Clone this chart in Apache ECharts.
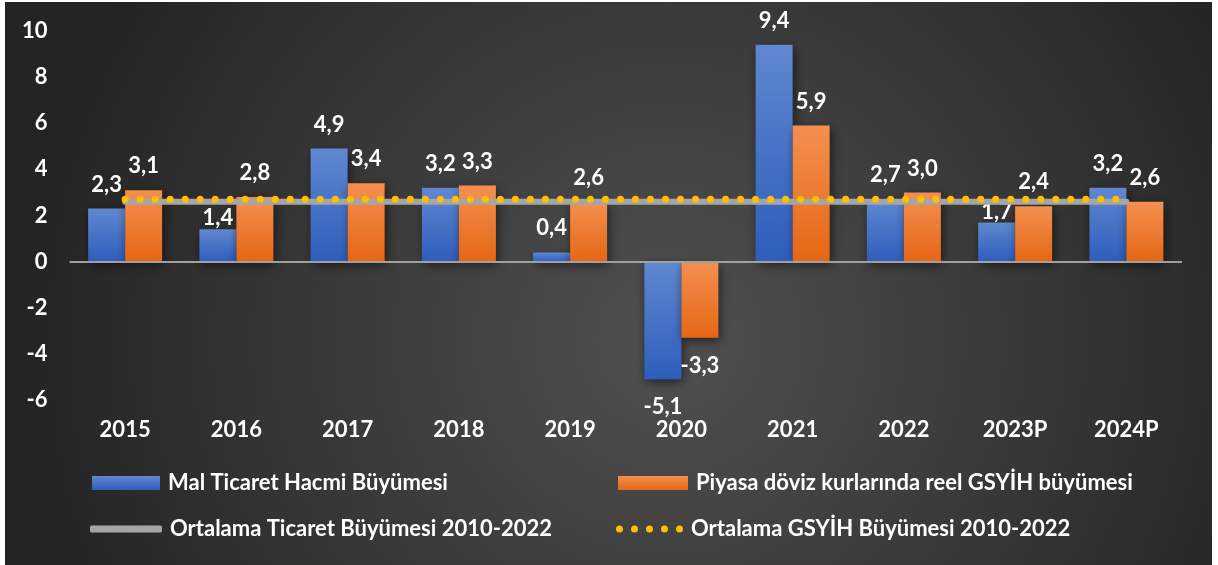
<!DOCTYPE html>
<html>
<head>
<meta charset="utf-8">
<script src="https://cdn.jsdelivr.net/npm/echarts@6/dist/echarts.min.js"></script>
<style>
  html, body { margin: 0; padding: 0; background: #ffffff; }
  #chart { width: 1218px; height: 565px; }
</style>
</head>
<body>
<div id="chart"></div>
<script>
// ---- Data ----
const categories = ['2015', '2016', '2017', '2018', '2019', '2020', '2021', '2022', '2023P', '2024P'];
const tradeGrowth = [2.3, 1.4, 4.9, 3.2, 0.4, -5.1, 9.4, 2.7, 1.7, 3.2];
const gdpGrowth = [3.1, 2.8, 3.4, 3.3, 2.6, -3.3, 5.9, 3.0, 2.4, 2.6];
const avgTradeGrowth = [2.6, 2.6, 2.6, 2.6, 2.6, 2.6, 2.6, 2.6, 2.6, 2.6];
const avgGdpGrowth = [2.7, 2.7, 2.7, 2.7, 2.7, 2.7, 2.7, 2.7, 2.7, 2.7];
const yTicks = [-6, -4, -2, 0, 2, 4, 6, 8, 10];
const seriesNames = [
  'Mal Ticaret Hacmi Büyümesi',
  'Piyasa döviz kurlarında reel GSYİH büyümesi',
  'Ortalama Ticaret Büyümesi 2010-2022',
  'Ortalama GSYİH Büyümesi 2010-2022'
];

// ---- Styling ----
const FONT = 'Lato';
const lowered = { 0: { 1: true, 8: true }, 1: {} }; // labels placed closer to bar top in original
function fmt(v) { return v.toFixed(1).replace('.', ','); }
function barData(values, sIdx) {
  return values.map((v, i) => {
    const label = v < 0 ? { position: 'bottom', distance: 17 } : { position: 'top', distance: 13 };
    if (lowered[sIdx][i]) label.offset = [0, 13];
    return { value: v, label: label };
  });
}
const labelStyle = { show: true, color: '#ffffff', fontFamily: FONT, fontWeight: 'bold', fontSize: 22, formatter: p => fmt(p.value) };
const blueGrad = new echarts.graphic.LinearGradient(0, 0, 0, 1, [
  { offset: 0, color: '#6088d0' }, { offset: 1, color: '#2e5dbc' }
]);
const orangeGrad = new echarts.graphic.LinearGradient(0, 0, 0, 1, [
  { offset: 0, color: '#f48f50' }, { offset: 1, color: '#e56715' }
]);
function dotsPath() {
  let p = 'path://';
  for (let i = 0; i < 5; i++) {
    const x = i * 15;
    p += 'M' + x + ',3.5a3.5,3.5 0 1,0 7,0a3.5,3.5 0 1,0 -7,0Z';
  }
  return p;
}
const legendText = { color: '#ffffff', fontFamily: FONT, fontWeight: 'bold', fontSize: 22, padding: [0, 0, 0, 3] };
const legendBase = { padding: 0, selectedMode: false, textStyle: legendText };

const chart = echarts.init(document.getElementById('chart'), null, { renderer: 'canvas' });
chart.setOption({
  animation: false,
  graphic: [{
    type: 'rect', left: 5, top: 2, z: -100, silent: true,
    shape: { width: 1207, height: 563 },
    style: { fill: new echarts.graphic.RadialGradient(0.55, 0.6, 1.15, [
      { offset: 0, color: '#505050' }, { offset: 1, color: '#242424' }
    ]) }
  }],
  grid: { left: 69.5, right: 36, top: 31, bottom: 165, containLabel: false },
  legend: [
    Object.assign({ data: [{ name: seriesNames[0], icon: 'rect' }], left: 92, top: 472, itemWidth: 68, itemHeight: 14 }, legendBase),
    Object.assign({ data: [{ name: seriesNames[1], icon: 'rect' }], left: 618, top: 472, itemWidth: 70, itemHeight: 14 }, legendBase),
    Object.assign({ data: [{ name: seriesNames[2], icon: 'roundRect' }], left: 90, top: 518, itemWidth: 72, itemHeight: 7 }, legendBase),
    Object.assign({ data: [{ name: seriesNames[3], icon: dotsPath() }], left: 616, top: 518, itemWidth: 67, itemHeight: 7 }, legendBase)
  ],
  xAxis: {
    type: 'category', data: categories,
    axisLine: { show: false, onZero: false }, axisTick: { show: false },
    axisLabel: { color: '#ffffff', fontFamily: FONT, fontWeight: 'bold', fontSize: 22, margin: 19 }
  },
  yAxis: {
    type: 'value', min: yTicks[0], max: yTicks[yTicks.length - 1], interval: 2,
    splitLine: { show: false }, axisLine: { show: false }, axisTick: { show: false },
    axisLabel: { color: '#ffffff', fontFamily: FONT, fontWeight: 'bold', fontSize: 22, margin: 22 }
  },
  series: [
    {
      name: seriesNames[0], type: 'bar', data: barData(tradeGrowth, 0), barWidth: 37, barGap: '0%',
      itemStyle: { color: blueGrad, shadowColor: 'rgba(0,0,0,0.55)', shadowBlur: 10, shadowOffsetX: 2, shadowOffsetY: 3 },
      label: labelStyle,
      markLine: {
        silent: true, symbol: 'none', label: { show: false },
        lineStyle: { color: '#a0a0a0', width: 2, type: 'solid' },
        data: [{ yAxis: 0 }], z: 5
      }
    },
    {
      name: seriesNames[1], type: 'bar', data: barData(gdpGrowth, 1), barWidth: 37, barGap: '0%',
      itemStyle: { color: orangeGrad, shadowColor: 'rgba(0,0,0,0.55)', shadowBlur: 10, shadowOffsetX: 2, shadowOffsetY: 3 },
      label: labelStyle
    },
    {
      name: seriesNames[2], type: 'line', data: avgTradeGrowth, symbol: 'none', z: 3,
      itemStyle: { color: '#a5a5a5' },
      lineStyle: { color: '#a5a5a5', width: 6, cap: 'round' }
    },
    {
      name: seriesNames[3], type: 'line', data: avgGdpGrowth, symbol: 'none', z: 4,
      itemStyle: { color: '#ffc000' },
      lineStyle: { color: '#ffc000', width: 7, type: [0.01, 15], cap: 'round' }
    }
  ]
});
</script>
</body>
</html>
